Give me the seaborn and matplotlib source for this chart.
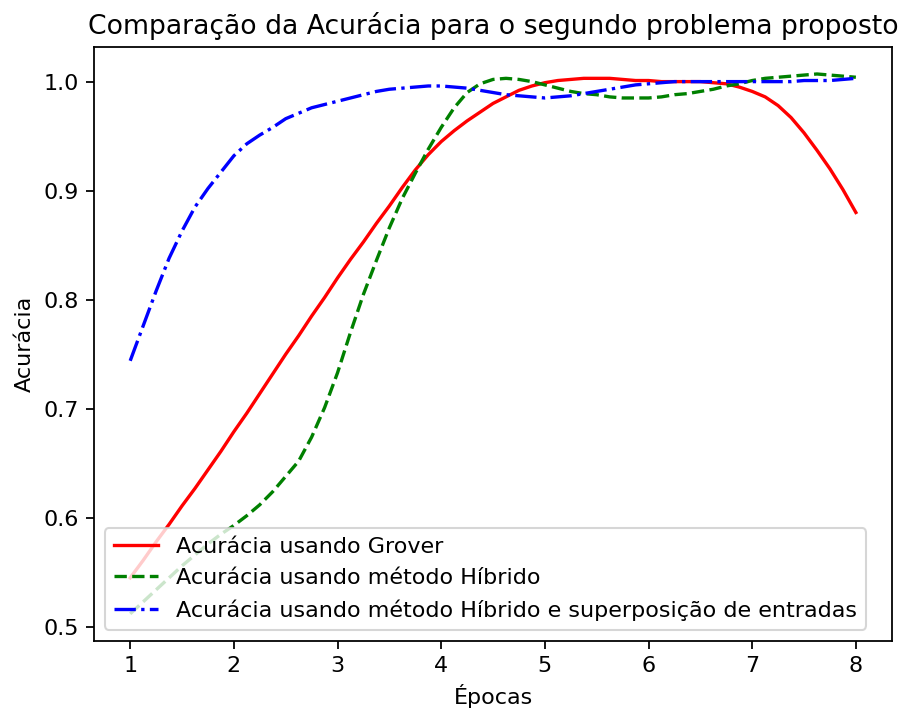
import matplotlib
matplotlib.use("Agg")
import matplotlib.pyplot as plt
import seaborn as sns

epocas = [1.0, 1.125, 1.25, 1.375, 1.5, 1.625, 1.75, 1.875,
          2.0, 2.125, 2.25, 2.375, 2.5, 2.625, 2.75, 2.875,
          3.0, 3.125, 3.25, 3.375, 3.5, 3.625, 3.75, 3.875,
          4.0, 4.125, 4.25, 4.375, 4.5, 4.625, 4.75, 4.875,
          5.0, 5.125, 5.25, 5.375, 5.5, 5.625, 5.75, 5.875,
          6.0, 6.125, 6.25, 6.375, 6.5, 6.625, 6.75, 6.875,
          7.0, 7.125, 7.25, 7.375, 7.5, 7.625, 7.75, 7.875, 8.0]

acc_grover = [0.545, 0.561, 0.578, 0.594, 0.611, 0.627, 0.644, 0.661,
              0.679, 0.696, 0.714, 0.732, 0.750, 0.767, 0.785, 0.802,
              0.820, 0.837, 0.853, 0.870, 0.886, 0.903, 0.919, 0.933,
              0.945, 0.955, 0.964, 0.972, 0.980, 0.986, 0.992, 0.996,
              0.999, 1.001, 1.002, 1.003, 1.003, 1.003, 1.002, 1.001,
              1.001, 1.000, 1.000, 1.000, 1.000, 0.999, 0.998, 0.995,
              0.991, 0.986, 0.978, 0.967, 0.953, 0.937, 0.920, 0.901, 0.880]

acc_hibrido = [0.512, 0.523, 0.534, 0.545, 0.556, 0.566, 0.576, 0.585,
               0.593, 0.602, 0.612, 0.624, 0.638, 0.652, 0.674, 0.701,
               0.733, 0.770, 0.805, 0.836, 0.866, 0.893, 0.916, 0.938,
               0.958, 0.976, 0.990, 0.998, 1.002, 1.003, 1.002, 1.000,
               0.997, 0.994, 0.991, 0.989, 0.988, 0.986, 0.985, 0.985,
               0.985, 0.986, 0.988, 0.989, 0.991, 0.993, 0.996, 0.998,
               1.001, 1.003, 1.004, 1.005, 1.006, 1.007, 1.006, 1.005, 1.004]

acc_superpos = [0.744, 0.776, 0.808, 0.838, 0.863, 0.885, 0.902, 0.917,
                0.932, 0.943, 0.951, 0.958, 0.966, 0.971, 0.976, 0.979,
                0.982, 0.985, 0.988, 0.991, 0.993, 0.994, 0.995, 0.996,
                0.996, 0.995, 0.994, 0.992, 0.990, 0.988, 0.987, 0.986,
                0.985, 0.986, 0.987, 0.989, 0.991, 0.993, 0.995, 0.997,
                0.998, 0.999, 1.000, 1.000, 1.000, 1.000, 1.000, 1.000,
                1.000, 1.000, 1.000, 1.000, 1.001, 1.001, 1.001, 1.002, 1.003]

labels = ["Acurácia usando Grover",
          "Acurácia usando método Híbrido",
          "Acurácia usando método Híbrido e superposição de entradas"]

s = 1.067
plt.rcParams.update({
    "font.size": 10 * s,
    "axes.linewidth": 0.8 * s,
    "xtick.major.size": 3.5 * s,
    "ytick.major.size": 3.5 * s,
    "xtick.major.width": 0.8 * s,
    "ytick.major.width": 0.8 * s,
})

fig = plt.figure(figsize=(6.02, 4.7467), dpi=150)
ax = fig.add_axes([0.104, 0.100, 0.884, 0.834])

lw = 1.5 * s
sns.lineplot(x=epocas, y=acc_grover, ax=ax, color="red", linestyle="-",
             linewidth=lw, label=labels[0])
sns.lineplot(x=epocas, y=acc_hibrido, ax=ax, color="green", linestyle="--",
             linewidth=lw, label=labels[1])
sns.lineplot(x=epocas, y=acc_superpos, ax=ax, color="blue", linestyle="-.",
             linewidth=lw, label=labels[2])

ax.set_title("Comparação da Acurácia para o segundo problema proposto", fontsize=12 * s)
ax.set_xlabel("Épocas")
ax.set_ylabel("Acurácia")
ax.set_xticks([1, 2, 3, 4, 5, 6, 7, 8])
ax.set_yticks([0.5, 0.6, 0.7, 0.8, 0.9, 1.0])
ax.legend(loc="lower left")

fig.savefig("out.png", dpi=150)
